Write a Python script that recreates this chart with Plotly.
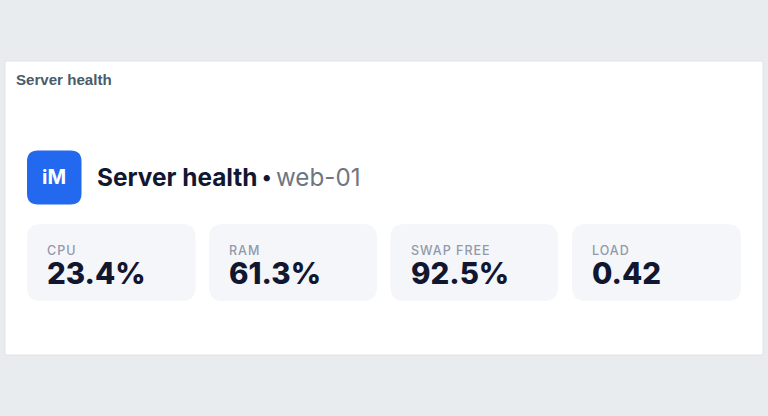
import plotly.graph_objects as go

panel_title = "Server health"
heading = "Server health"
host = "web-01"
badge = "iM"
metric_labels = ["CPU", "RAM", "SWAP FREE", "LOAD"]
metric_values = ["23.4%", "61.3%", "92.5%", "0.42"]

FONT = "Inter, 'Noto Sans', sans-serif"
card_left = [27, 209, 390.5, 572]
card_right = [195.5, 377, 558, 741]


def rounded(x0, y0, x1, y1, r):
    return (f"M{x0+r},{y0} L{x1-r},{y0} Q{x1},{y0} {x1},{y0+r} L{x1},{y1-r} Q{x1},{y1} {x1-r},{y1} "
            f"L{x0+r},{y1} Q{x0},{y1} {x0},{y1-r} L{x0},{y0+r} Q{x0},{y0} {x0+r},{y0} Z")


shapes = [
    dict(type="rect", x0=5, y0=61, x1=763, y1=355, fillcolor="#ffffff",
         line=dict(color="#dfe2e6", width=1), layer="below"),
    dict(type="path", path=rounded(27, 150.5, 81.5, 204.5, 11), fillcolor="#2369f0",
         line=dict(width=0), layer="below"),
]
for left, right in zip(card_left, card_right):
    shapes.append(dict(type="path", path=rounded(left, 224, right, 301, 14), fillcolor="#f5f6fa",
                       line=dict(width=0), layer="below"))


def text(x, y, s, size, color, family=FONT, anchor="left", weight=None):
    return dict(x=x, y=y, xref="x", yref="y", text=s, showarrow=False, xanchor=anchor, yanchor="middle",
                font=dict(family=family, size=size, color=color, weight=weight), align="left")


annotations = [
    text(14, 79, panel_title, 15.1, "#4a5b69", family="'Liberation Sans', Arial, sans-serif", weight=700),
    text(54.2, 177, badge, 20, "#ffffff", anchor="center", weight=700),
    text(94.7, 177, heading, 24.4, "#11172f", weight=700),
    text(260, 177, "•", 20, "#11172f", weight=700),
    text(274, 177, host, 24.2, "#6f7683"),
]
for left, label, value in zip(card_left, metric_labels, metric_values):
    annotations.append(text(left + 18, 250, f"<span style='letter-spacing:1px'>{label}</span>", 12.5, "#9299a9", weight=500))
    annotations.append(text(left + 18, 272.5, value, 29.5, "#11172f", weight=800))

fig = go.Figure()
fig.update_layout(
    width=768, height=416, margin=dict(l=0, r=0, t=0, b=0),
    paper_bgcolor="#e9ecef", plot_bgcolor="#e9ecef", showlegend=False,
    xaxis=dict(range=[0, 768], visible=False, fixedrange=True),
    yaxis=dict(range=[416, 0], visible=False, fixedrange=True),
    shapes=shapes, annotations=annotations,
)
fig.write_html("out.html", config=dict(displayModeBar=False),
               post_script="document.body.style.margin='0';document.body.style.overflow='hidden';")
